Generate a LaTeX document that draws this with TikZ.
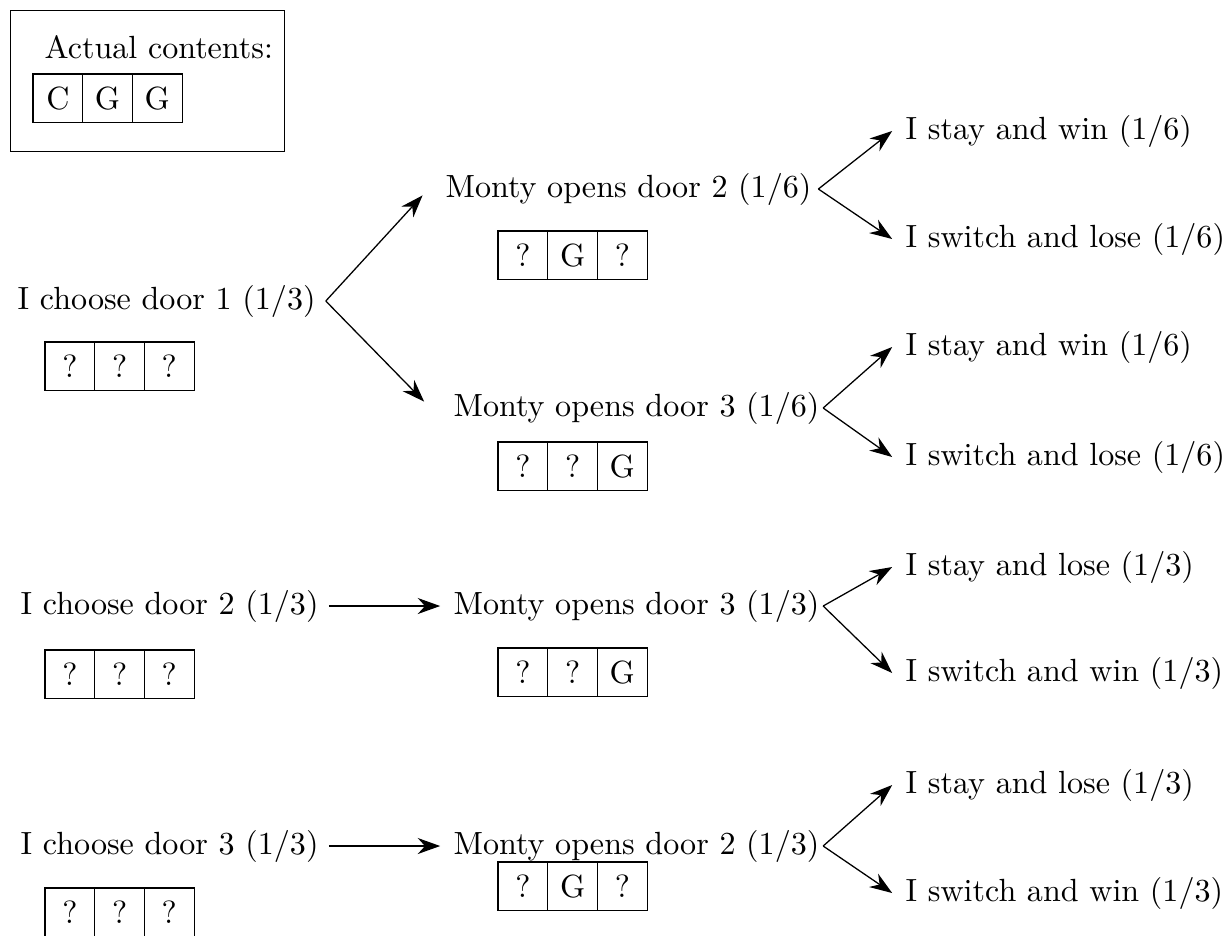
\documentclass[tikz,border=0pt]{standalone}
\usepackage{amsmath}
\usetikzlibrary{arrows.meta,positioning}

% a row of three doors: name, top left corner, contents
\newcommand{\doorrow}[5]{%
	\node[door,anchor=north west] at (#2) (#1a) {#3};
	\node[door,right=0pt of #1a] (#1b) {#4};
	\node[door,right=0pt of #1b] (#1c) {#5};
}

\begin{document}
\begin{tikzpicture}[x=0.3117pt,y=-0.3117pt,
		label node/.style={anchor=west,inner sep=0pt},
		door/.style={draw,minimum width=15.5pt,minimum height=15.1pt,inner sep=0pt,outer sep=0pt},
		branch/.style={-{Stealth[length=7pt,width=5pt]}}
		]
		\useasboundingbox (0,0) rectangle (1223,935);
		
		% what is really behind the doors
		\node[draw,anchor=north west,minimum width=85.4pt,minimum height=44pt,inner sep=0pt] at (10,10) (actual) {};
		\node[label node] at (44,47) (actualtext) {Actual contents:};
		\doorrow{act}{33,74}{C}{G}{G}
		
		% my first choice
		\node[label node] at (17,301) (c1) {I choose door 1 (1/3)};
		\doorrow{c1d}{45,342}{?}{?}{?}
		\node[label node] at (20,606) (c2) {I choose door 2 (1/3)};
		\doorrow{c2d}{45,650}{?}{?}{?}
		\node[label node] at (20,846) (c3) {I choose door 3 (1/3)};
		\doorrow{c3d}{45,888}{?}{?}{?}
		
		% Monty opens a door
		\node[label node] at (445,189) (m12) {Monty opens door 2 (1/6)};
		\doorrow{m12d}{498,231}{?}{G}{?}
		\node[label node] at (453,408) (m13) {Monty opens door 3 (1/6)};
		\doorrow{m13d}{498,442}{?}{?}{G}
		\node[label node] at (453,606) (m23) {Monty opens door 3 (1/3)};
		\doorrow{m23d}{498,648}{?}{?}{G}
		\node[label node] at (453,846) (m32) {Monty opens door 2 (1/3)};
		\doorrow{m32d}{498,862}{?}{G}{?}
		
		% stay or switch
		\node[label node] at (905,131) (o1) {I stay and win (1/6)};
		\node[label node] at (905,239) (o2) {I switch and lose (1/6)};
		\node[label node] at (905,347) (o3) {I stay and win (1/6)};
		\node[label node] at (905,457) (o4) {I switch and lose (1/6)};
		\node[label node] at (905,567) (o5) {I stay and lose (1/3)};
		\node[label node] at (905,673) (o6) {I switch and win (1/3)};
		\node[label node] at (905,785) (o7) {I stay and lose (1/3)};
		\node[label node] at (905,893) (o8) {I switch and win (1/3)};
		
		\draw[branch] ([xshift=3pt]c1.east) -- ([xshift=-7pt,yshift=-2pt]m12.west);
		\draw[branch] ([xshift=3pt]c1.east) -- ([xshift=-9pt,yshift=2pt]m13.west);
		\draw[branch] ([xshift=3pt]c2.east) -- ([xshift=-4pt]m23.west);
		\draw[branch] ([xshift=3pt]c3.east) -- ([xshift=-4pt]m32.west);
		
		\draw[branch] ([xshift=2pt]m12.east) -- ([xshift=-4pt]o1.west);
		\draw[branch] ([xshift=2pt]m12.east) -- ([xshift=-4pt]o2.west);
		\draw[branch] ([xshift=1pt]m13.east) -- ([xshift=-4pt]o3.west);
		\draw[branch] ([xshift=1pt]m13.east) -- ([xshift=-4pt]o4.west);
		\draw[branch] ([xshift=1pt]m23.east) -- ([xshift=-4pt]o5.west);
		\draw[branch] ([xshift=1pt]m23.east) -- ([xshift=-4pt]o6.west);
		\draw[branch] ([xshift=1pt]m32.east) -- ([xshift=-4pt]o7.west);
		\draw[branch] ([xshift=1pt]m32.east) -- ([xshift=-4pt]o8.west);
\end{tikzpicture}
\end{document}
